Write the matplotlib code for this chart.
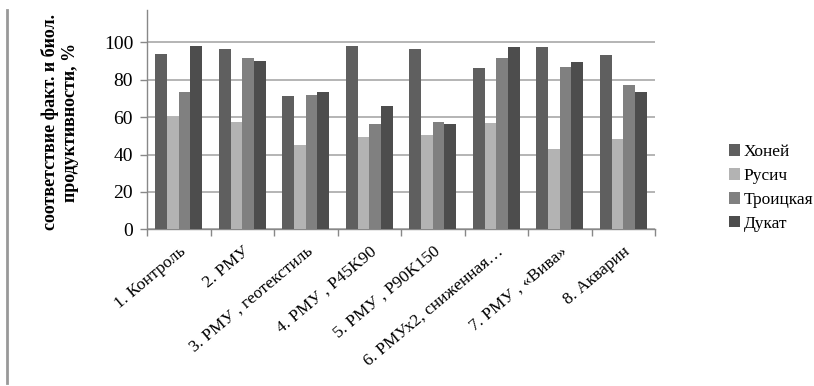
import matplotlib
matplotlib.use("Agg")
import matplotlib.pyplot as plt
import numpy as np
from matplotlib.lines import Line2D
from matplotlib.patches import Patch

categories = [
    "1. Контроль",
    "2. РМУ",
    "3. РМУ , геотекстиль",
    "4. РМУ , P45K90",
    "5. РМУ , P90K150",
    "6. РМУх2, сниженная…",
    "7. РМУ , «Вива»",
    "8. Акварин",
]
series_names = ["Хоней", "Русич", "Троицкая", "Дукат"]
honey = [93.6, 96.3, 71.1, 97.9, 96.3, 86.1, 97.3, 93.0]
rusich = [60.2, 57.4, 44.9, 49.2, 50.3, 56.8, 42.9, 48.3]
troitskaya = [73.6, 91.4, 71.7, 56.5, 57.4, 91.4, 86.6, 77.3]
dukat = [97.9, 90.0, 73.6, 65.8, 56.5, 97.3, 89.3, 73.6]
yticks = [0, 20, 40, 60, 80, 100]
ylabel = "соответствие факт. и биол.\nпродуктивности, %"

series = [honey, rusich, troitskaya, dukat]
colors = ["#5f5f5f", "#b3b3b3", "#808080", "#4d4d4d"]

plt.rcParams["font.family"] = ["Liberation Serif", "DejaVu Serif"]

fig = plt.figure(figsize=(8.14, 3.86), dpi=100)
ax = fig.add_axes([147 / 814, 1 - 229.3 / 386, (655 - 147) / 814, (229.3 - 10) / 386])

x = np.arange(len(categories))
bw = 0.184
for i, (vals, col) in enumerate(zip(series, colors)):
    ax.bar(x + (i - 1.5) * bw, vals, width=bw, color=col, edgecolor="none", zorder=3)

ax.set_xlim(-0.5, len(categories) - 0.5)
ax.set_ylim(0, 117.3)
ax.set_yticks(yticks)
ax.set_yticklabels([str(v) for v in yticks], fontsize=14)
ax.yaxis.grid(True, color="#a8a8a8", linewidth=1.2, zorder=0)

ax.set_xticks(x)
ax.set_xticklabels(categories, rotation=40, ha="right", rotation_mode="anchor", fontsize=12.5)
ax.tick_params(axis="x", which="major", length=0, pad=10)
ax.set_xticks(np.arange(-0.5, len(categories)), minor=True)
ax.tick_params(axis="x", which="minor", length=5, color="#888888", width=1)
ax.tick_params(axis="y", length=5, color="#888888", width=1, pad=5)

for side in ["top", "right"]:
    ax.spines[side].set_visible(False)
for side in ["left", "bottom"]:
    ax.spines[side].set_color("#888888")
    ax.spines[side].set_linewidth(1)

fig.text(60 / 814, 1 - 122 / 386, ylabel, rotation=90, ha="center", va="center",
         fontsize=13, fontweight="bold", linespacing=1.3)

handles = [Patch(facecolor=c, edgecolor="none") for c in colors]
fig.legend(handles, series_names, loc="center left", bbox_to_anchor=(729 / 814, 1 - 188 / 386),
           frameon=False, fontsize=12.5, handlelength=0.65, handleheight=0.65, handletextpad=0.2,
           labelspacing=0.45, borderaxespad=0, borderpad=0)

fig.add_artist(Line2D([7 / 814, 7 / 814], [1 - 10 / 386, 1 - 383 / 386], color="#999999", linewidth=2))

fig.savefig("out.png", dpi=100)
